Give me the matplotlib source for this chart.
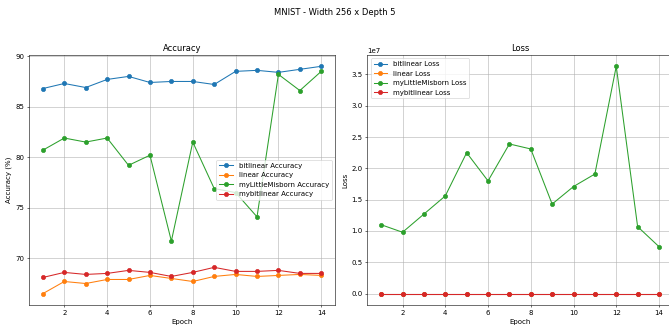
import matplotlib
matplotlib.use("Agg")
import matplotlib.pyplot as plt

epochs = list(range(1, 15))

# Accuracy (%) per model
acc_bitlinear = [86.8, 87.3, 86.9, 87.7, 88.0, 87.4, 87.5, 87.5, 87.2, 88.5, 88.6, 88.4, 88.7, 89.0]
acc_linear = [66.5, 67.7, 67.5, 67.9, 67.9, 68.3, 68.0, 67.7, 68.2, 68.4, 68.2, 68.3, 68.4, 68.3]
acc_misborn = [80.7, 81.9, 81.5, 81.9, 79.2, 80.2, 71.7, 81.5, 76.9, 76.5, 74.1, 88.2, 86.6, 88.5]
acc_mybitlinear = [68.1, 68.6, 68.4, 68.5, 68.8, 68.6, 68.2, 68.6, 69.1, 68.7, 68.7, 68.8, 68.5, 68.5]

# Loss per model (the three small ones sit at ~0 on the 1e7 scale)
loss_bitlinear = [0.45, 0.40, 0.42, 0.38, 0.37, 0.39, 0.38, 0.38, 0.40, 0.36, 0.35, 0.36, 0.35, 0.34]
loss_linear = [1.10, 1.00, 0.98, 0.96, 0.95, 0.94, 0.95, 0.96, 0.94, 0.93, 0.94, 0.93, 0.93, 0.93]
loss_misborn = [1.10e7, 0.98e7, 1.27e7, 1.56e7, 2.25e7, 1.80e7, 2.39e7, 2.31e7,
                1.43e7, 1.71e7, 1.91e7, 3.63e7, 1.07e7, 0.75e7]
loss_mybitlinear = [1.05, 0.99, 0.98, 0.97, 0.96, 0.96, 0.97, 0.96, 0.95, 0.95, 0.95, 0.95, 0.96, 0.96]

names = ["bitlinear", "linear", "myLittleMisborn", "mybitlinear"]
accs = [acc_bitlinear, acc_linear, acc_misborn, acc_mybitlinear]
losses = [loss_bitlinear, loss_linear, loss_misborn, loss_mybitlinear]

fig = plt.figure(figsize=(13.38, 6.58), dpi=50)
ax1 = fig.add_axes([0.0433, 0.073, 0.4577, 0.760])
ax2 = fig.add_axes([0.549, 0.073, 0.4568, 0.760])

for name, a in zip(names, accs):
    ax1.plot(epochs, a, marker="o", label=f"{name} Accuracy")
ax1.set_title("Accuracy")
ax1.set_xlabel("Epoch")
ax1.set_ylabel("Accuracy (%)")
ax1.legend(loc="center right")
ax1.grid(True)

for name, l in zip(names, losses):
    ax2.plot(epochs, l, marker="o", label=f"{name} Loss")
ax2.set_title("Loss")
ax2.set_xlabel("Epoch")
ax2.set_ylabel("Loss")
ax2.legend(loc="upper left")
ax2.grid(True)

fig.suptitle("MNIST - Width 256 x Depth 5", y=0.975)

fig.savefig("out.png", dpi=50)
